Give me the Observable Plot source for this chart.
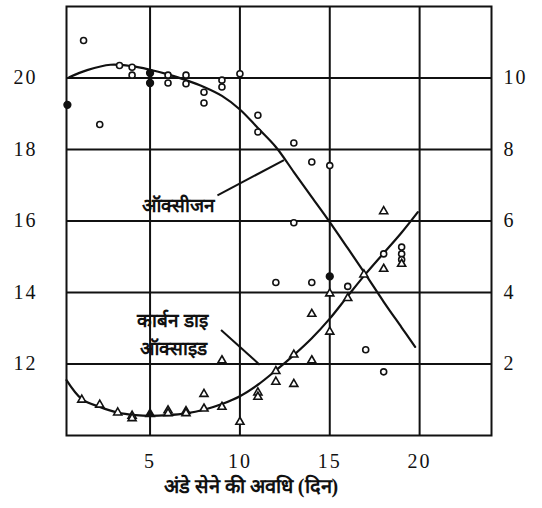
<!DOCTYPE html>
<html>
<head>
<meta charset="utf-8">
<script src="https://cdn.jsdelivr.net/npm/d3@7"></script>
<script src="https://cdn.jsdelivr.net/npm/@observablehq/plot@0.6"></script>
<style>
  body { margin: 0; background: #fff; }
  #chart svg { display: block; }
</style>
</head>
<body>
<div id="chart"></div>
<script>
// Incubation period (days) on x; oxygen % on the left axis (10–22),
// carbon dioxide % on the right axis (0–12), sharing one grid.
const xTicks = [5, 10, 15, 20];
const oxygenTicks = [12, 14, 16, 18, 20];
const co2Ticks = [2, 4, 6, 8, 10];
const CO2_OFFSET = 10; // CO2 % drawn on the oxygen scale shifted by 10

// Oxygen measurements [day, %]
const oxygenOpen = [
  [1.3, 21.05], [2.2, 18.7], [3.3, 20.35], [4.0, 20.3], [4.0, 20.08],
  [6.0, 20.08], [6.0, 19.86], [7.0, 20.08], [7.0, 19.84], [8.0, 19.6],
  [8.0, 19.3], [9.0, 19.94], [9.0, 19.75], [10.0, 20.12], [11.0, 18.96],
  [11.0, 18.49], [13.0, 18.18], [14.0, 17.65], [15.0, 17.55], [13.0, 15.95],
  [12.0, 14.28], [14.0, 14.28], [16.0, 14.17], [17.0, 12.4], [18.0, 11.78],
  [18.0, 15.08], [19.0, 15.27], [19.0, 15.08], [19.0, 14.92]
];
const oxygenSolid = [[0.4, 19.25], [5.0, 20.14], [5.0, 19.86], [15.0, 14.45]];

// Carbon dioxide measurements [day, %]
const co2Open = [
  [1.2, 1.0], [2.2, 0.86], [3.2, 0.64], [4.0, 0.55], [4.0, 0.48],
  [6.0, 0.7], [6.0, 0.62], [7.0, 0.68], [7.0, 0.62], [8.0, 0.75],
  [8.0, 1.16], [9.0, 0.8], [9.0, 2.1], [10.0, 0.38], [11.0, 1.2],
  [11.0, 1.08], [12.0, 1.8], [12.0, 1.5], [13.0, 2.26], [13.0, 1.44],
  [14.0, 3.4], [14.0, 2.1], [15.0, 3.97], [15.0, 2.9], [16.0, 3.84],
  [16.9, 4.5], [18.0, 6.27], [18.0, 4.66], [19.0, 4.8]
];
const co2Solid = [[5.0, 0.6]];

// Fitted trend curves [day, %]
const oxygenCurve = [
  [0.5, 20.02], [1.5, 20.22], [2.8, 20.37], [4, 20.33], [5, 20.23],
  [6, 20.1], [7, 19.94], [8, 19.75], [9, 19.5], [10, 19.12], [11, 18.6],
  [12, 18.07], [13, 17.37], [14, 16.67], [15, 15.97], [16, 15.24],
  [17, 14.5], [18, 13.74], [19, 13.02], [19.75, 12.48]
];
const co2Curve = [
  [0.35, 1.55], [1.2, 1.02], [2.2, 0.8], [3.2, 0.64], [4.2, 0.57],
  [5, 0.55], [6, 0.57], [7, 0.62], [8, 0.72], [9, 0.88], [10, 1.1],
  [11, 1.42], [12, 1.82], [13, 2.25], [14, 2.72], [15, 3.27],
  [16, 3.9], [17, 4.52], [18, 5.1], [19, 5.68], [19.9, 6.25]
];

// Curve labels and their leader lines (day, oxygen-scale %)
const labels = [
  {text: "ऑक्सीजन", day: 6.6, value: 16.43},
  {text: "कार्बन डाइ", day: 6.25, value: 13.2},
  {text: "ऑक्साइड", day: 6.3, value: 12.42}
];
const leaders = [
  {x1: 8.75, y1: 16.72, x2: 12.45, y2: 17.7},
  {x1: 8.95, y1: 12.95, x2: 11.1, y2: 11.98}
];

const xTitle = "अंडे सेने की अवधि (दिन)";

const serif = "Liberation Serif, serif";
const ink = "#111";

const chart = Plot.plot({
  width: 542,
  height: 508,
  marginLeft: 66,
  marginRight: 51,
  marginTop: 6,
  marginBottom: 73,
  x: {domain: [0.35, 24]},
  y: {domain: [10, 22]},
  style: {background: "#fff", color: ink, fontFamily: serif},
  marks: [
    Plot.ruleX(xTicks, {stroke: ink, strokeWidth: 2}),
    Plot.ruleY(oxygenTicks, {stroke: ink, strokeWidth: 2}),
    Plot.frame({stroke: ink, strokeWidth: 2}),
    Plot.axisX(xTicks, {tickSize: 0, tickPadding: 18, fontSize: 20, label: null}),
    Plot.axisY(oxygenTicks, {anchor: "left", tickSize: 0, tickPadding: 29, fontSize: 20, label: null}),
    Plot.axisY(co2Ticks.map(d => d + CO2_OFFSET), {
      anchor: "right", tickSize: 0, tickPadding: 12, fontSize: 20, label: null,
      tickFormat: d => String(d - CO2_OFFSET)
    }),
    Plot.line(oxygenCurve, {x: d => d[0], y: d => d[1], curve: "catmull-rom", stroke: ink, strokeWidth: 2.2}),
    Plot.line(co2Curve, {x: d => d[0], y: d => d[1] + CO2_OFFSET, curve: "catmull-rom", stroke: ink, strokeWidth: 2.2}),
    Plot.dot(oxygenOpen, {x: d => d[0], y: d => d[1], r: 3, stroke: ink, strokeWidth: 1.6, fill: "#fff"}),
    Plot.dot(oxygenSolid, {x: d => d[0], y: d => d[1], r: 3.4, stroke: ink, fill: ink}),
    Plot.dot(co2Open, {x: d => d[0], y: d => d[1] + CO2_OFFSET, symbol: "triangle", r: 3, stroke: ink, strokeWidth: 1.6, fill: "#fff"}),
    Plot.dot(co2Solid, {x: d => d[0], y: d => d[1] + CO2_OFFSET, symbol: "triangle", r: 3.2, stroke: ink, fill: ink}),
    Plot.link(leaders, {x1: "x1", y1: "y1", x2: "x2", y2: "y2", stroke: ink, strokeWidth: 2}),
    Plot.text(labels, {x: "day", y: "value", text: "text", fontSize: 19, fontWeight: "bold", fill: ink}),
    Plot.text([xTitle], {frameAnchor: "bottom", dx: -28, dy: 57, text: d => d, fontSize: 20, fontWeight: "bold", fill: ink})
  ]
});
// Spaced-out numerals on the axes
d3.select(chart).selectAll("[aria-label$='axis tick label'] text").attr("letter-spacing", "2px");
document.getElementById("chart").append(chart);
</script>
</body>
</html>
